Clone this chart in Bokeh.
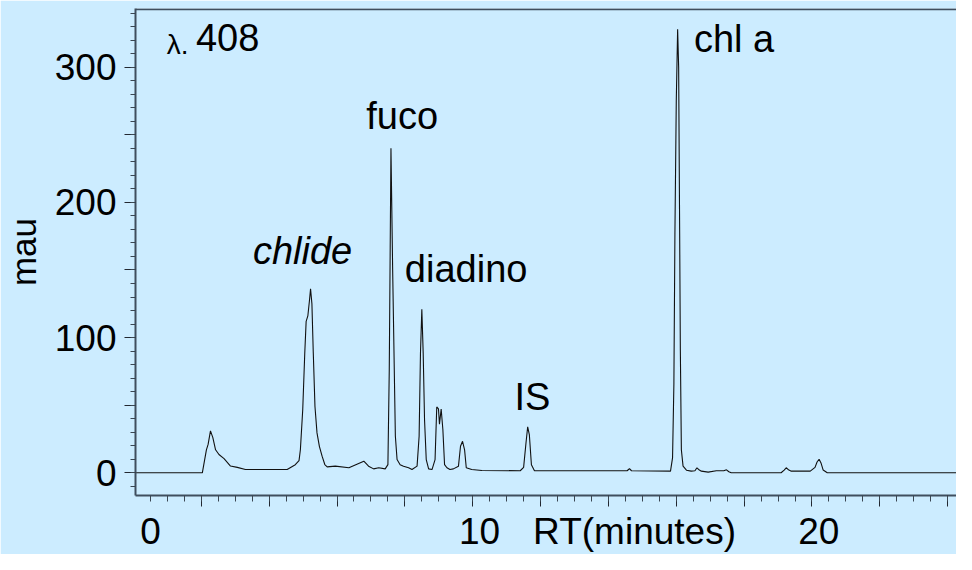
from bokeh.plotting import figure
from bokeh.models import (Range1d, FixedTicker, Label, Span, LinearAxis,
                          CustomJSTickFormatter)
from bokeh.embed import file_html
from bokeh.resources import INLINE

# ---- data (retention time in minutes, absorbance in mau) ----
rt = [0.06, 2.03, 2.15, 2.20, 2.27, 2.34, 2.42, 2.52, 2.67, 2.86, 3.06, 3.30,
      4.53, 4.77, 4.88, 4.92, 4.99, 5.05, 5.09, 5.14, 5.19, 5.22, 5.26, 5.30,
      5.35, 5.41, 5.48, 5.56, 5.64, 5.71, 5.95, 6.35, 6.79, 6.93, 7.08, 7.23,
      7.42, 7.50, 7.54, 7.59, 7.64, 7.72, 7.77, 7.86, 7.96, 8.11, 8.21, 8.36,
      8.42, 8.46, 8.50, 8.54, 8.58, 8.63, 8.70, 8.80, 8.89, 8.94, 8.99, 9.02,
      9.07, 9.12, 9.17, 9.24, 9.33, 9.43, 9.58, 9.64, 9.70, 9.76, 9.81, 9.97,
      10.27, 11.40, 11.50, 11.57, 11.62, 11.67, 11.73, 11.82, 14.55, 14.62,
      14.68, 15.83, 15.89, 15.93, 15.96, 16.00, 16.04, 16.07, 16.10, 16.12,
      16.15, 16.20, 16.30, 16.44, 16.55, 16.61, 16.68, 16.74, 16.94, 17.18,
      17.40, 17.48, 17.55, 17.62, 19.09, 19.18, 19.24, 19.32, 19.39, 19.95,
      20.09, 20.15, 20.21, 20.27, 20.33, 20.45, 25.0]
mau = [0, 0, 17, 21, 31, 26, 17, 13.5, 10.5, 5, 4, 2.4,
       2.4, 6, 9, 17, 47, 89, 112, 116, 128, 136, 125, 89,
       49, 29.5, 19.6, 12.3, 6.1, 4.4, 4.9, 3.7, 8.6, 4.9, 2.9, 3.7,
       2.9, 6, 76, 240, 150, 27, 9.8, 6, 4.9, 3.7, 2.4, 4.9,
       27, 88.6, 121, 88.6, 39, 9.8, 2.9, 2.4, 9.8, 48.7, 47.3, 36,
       47.2, 32, 6, 3.7, 2.4, 2.9, 4.9, 19.6, 23.3, 17, 3.7, 2.4,
       1.7, 1.5, 4, 22, 34, 28, 6, 1.5, 1.5, 3,
       1.5, 1.2, 11, 66, 177, 275, 328, 300, 177, 91,
       17, 4.9, 1.9, 1.2, 1.5, 3.7, 2, 1.2, 0.5, 1.5,
       1.5, 2.2, 0.8, 0, 0, 2, 3.7, 2, 1.2, 1.2,
       4, 8, 10, 7, 2, 0, 0]

y_major = [0, 50, 100, 150, 200, 250, 300]
y_labels = {50: "", 150: "", 250: ""}
x_major = list(range(0, 26, 2))
x_minor = [i * 0.5 for i in range(0, 51)]
# bottom texts as drawn in the original, with the RT (min) where each sits
x_text_at = [0.5, 10.2, 14.77, 20.2]
x_texts = ["0", "10", "RT(minutes)", "20"]
peak_names = ["fuco", "chlide", "diadino", "IS", "chl a"]

BG = "#CCECFF"
AX = "#3F4E5E"
FONT = "Liberation Sans"
PX_PER_MAU = 1.355

p = figure(width=956, height=554, output_backend="svg", toolbar_location=None,
           x_range=Range1d(0.06, 24.26), y_range=Range1d(-16.8, 343.4),
           min_border_left=133, min_border_right=0, min_border_top=8,
           min_border_bottom=58, background_fill_color=BG,
           border_fill_color=BG, outline_line_color=None)
p.xgrid.visible = False
p.ygrid.visible = False

p.line(rt, mau, line_color="#111111", line_width=1.1)

# x axis: tick marks only
xa = p.xaxis[0]
xa.ticker = FixedTicker(ticks=x_major, minor_ticks=x_minor)
xa.formatter = CustomJSTickFormatter(code="return ''")
xa.major_label_text_font_size = "0px"
xa.major_label_standoff = 0
xa.axis_line_color = AX
xa.axis_line_width = 2
xa.major_tick_line_color = "#222831"
xa.minor_tick_line_color = "#3a4652"
xa.major_tick_in = 0
xa.major_tick_out = 11
xa.minor_tick_in = 0
xa.minor_tick_out = 6

# second bottom axis carrying the texts below the ticks
xb = LinearAxis(ticker=FixedTicker(ticks=x_text_at, minor_ticks=[]),
                formatter=CustomJSTickFormatter(args=dict(labels=x_texts),
                                                code="return labels[index]"),
                axis_line_color=None, major_tick_line_color=None,
                minor_tick_line_color=None, major_tick_in=0, major_tick_out=0,
                minor_tick_in=0, minor_tick_out=0, major_label_standoff=4,
                major_label_text_font=FONT, major_label_text_font_size="37px",
                major_label_text_color="black")
p.add_layout(xb, "below")

# y axis
ya = p.yaxis[0]
ya.ticker = FixedTicker(ticks=y_major, minor_ticks=list(range(-10, 341, 10)))
ya.major_label_overrides = y_labels
ya.major_label_text_font = FONT
ya.major_label_text_font_size = "37px"
ya.major_label_text_color = "black"
ya.major_label_standoff = 8
ya.axis_line_color = AX
ya.axis_line_width = 2
ya.major_tick_line_color = "#222831"
ya.minor_tick_line_color = "#3a4652"
ya.major_tick_in = 0
ya.major_tick_out = 11
ya.minor_tick_in = 0
ya.minor_tick_out = 5
ya.axis_label = "mau"
ya.axis_label_text_font = FONT
ya.axis_label_text_font_size = "35px"
ya.axis_label_text_font_style = "normal"
ya.axis_label_text_color = "black"
ya.axis_label_standoff = 9

# top border line
p.add_layout(Span(location=342.9, dimension="width", line_color=AX, line_width=2))

def lab(x, y, t, size=38, style="normal"):
    # lift so that the glyph baseline lands on y
    y_adj = y + 0.386 * size / PX_PER_MAU
    p.add_layout(Label(x=x, y=y_adj, text=t, text_font=FONT,
                       text_font_size=f"{size}px", text_font_style=style,
                       text_color="black", text_align="left",
                       text_baseline="alphabetic"))

# wavelength
lab(0.98, 308.5, "\u03bb.", size=28)
lab(1.84, 311, "408")

# peak names
lab(6.86, 253, peak_names[0])
lab(3.52, 153, peak_names[1], style="italic")
lab(8.00, 140, peak_names[2])
lab(11.23, 45, peak_names[3])
lab(16.52, 310, peak_names[4])

open("out.html", "w").write(file_html(p, INLINE))
